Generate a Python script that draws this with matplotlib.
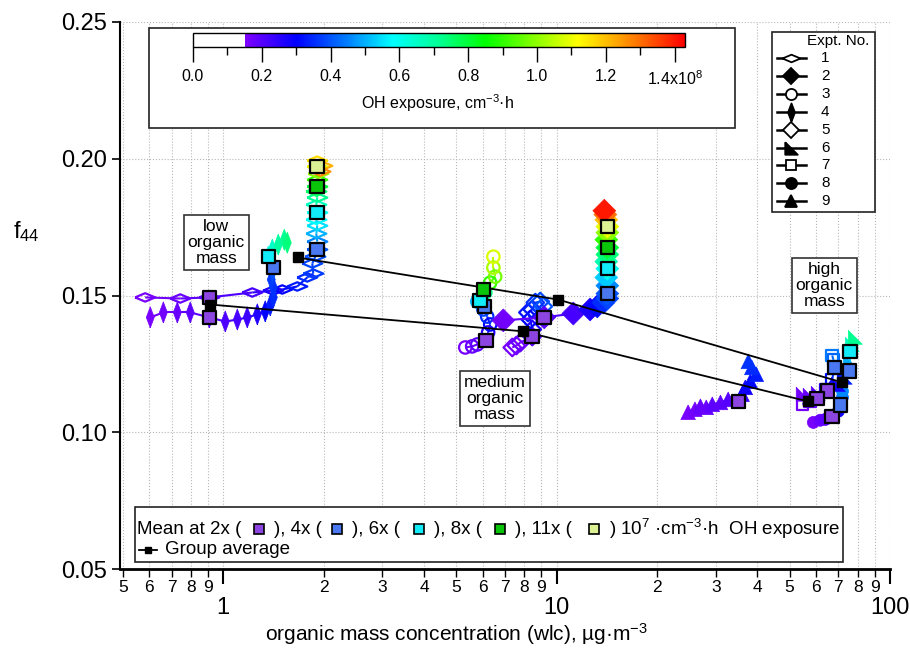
import numpy as np
import matplotlib as mpl
import matplotlib.pyplot as plt
from matplotlib.colors import LinearSegmentedColormap, Normalize
from matplotlib.collections import LineCollection
from matplotlib.patches import Rectangle
from matplotlib.ticker import FixedLocator, LogLocator, FuncFormatter

plt.rcParams['font.family'] = ['Liberation Sans', 'DejaVu Sans']
plt.rcParams['mathtext.fontset'] = 'custom'
plt.rcParams['mathtext.rm'] = 'Liberation Sans'
plt.rcParams['mathtext.it'] = 'Liberation Sans:italic'

# ---- data: organic mass (ug/m3), f44, OH exposure (1e8 cm-3 h) ----
# expt 1, low mass, upper track
e1_x = [0.583, 0.743, 0.908, 1.222, 1.412, 1.503, 1.667, 1.786, 1.862, 1.849, 1.888, 1.914, 1.914, 1.901,
        1.914, 1.901, 1.914, 1.901, 1.914, 1.901, 1.914, 1.914, 1.928, 1.914, 1.914, 1.981, 1.955]
e1_y = [0.1493, 0.1489, 0.1493, 0.1511, 0.1518, 0.1522, 0.1533, 0.1566, 0.1580, 0.1617, 0.1642, 0.1668, 0.1697, 0.1726,
        0.1755, 0.1777, 0.1803, 0.1832, 0.1858, 0.1880, 0.1898, 0.1923, 0.1945, 0.1971, 0.1993, 0.1974, 0.1953]
e1_oh = [0.16, 0.18, 0.20, 0.22, 0.27, 0.30, 0.33, 0.35, 0.37, 0.38, 0.39, 0.40, 0.45, 0.50,
         0.55, 0.58, 0.60, 0.66, 0.72, 0.76, 0.80, 0.90, 1.00, 1.10, 1.16, 1.22, 1.26]
# expt 2, medium mass
e2_x = [6.92, 9.18, 11.22, 12.6, 13.24, 13.8, 14.19, 14.19, 14.19, 14.09, 14.19, 14.09, 14.19, 14.19,
        14.09, 14.19, 14.19, 14.09, 14.0, 13.9]
e2_y = [0.1409, 0.1420, 0.1434, 0.1449, 0.1460, 0.1474, 0.1489, 0.1507, 0.1536, 0.1566, 0.1598, 0.1624, 0.1650, 0.1675,
        0.1704, 0.1730, 0.1752, 0.1777, 0.1796, 0.1810]
e2_oh = [0.17, 0.20, 0.22, 0.27, 0.31, 0.35, 0.38, 0.40, 0.46, 0.53, 0.60, 0.68, 0.74, 0.80,
         0.90, 1.00, 1.10, 1.20, 1.30, 1.40]
# expt 3, medium mass
e3_x = [5.32, 5.58, 5.78, 6.15, 6.23, 6.32, 6.19, 6.03, 6.07, 5.78, 5.90, 6.11, 6.03, 6.32, 6.54, 6.46, 6.46]
e3_y = [0.1310, 0.1314, 0.1321, 0.1336, 0.1365, 0.1394, 0.1423, 0.1449, 0.1460, 0.1478, 0.1482, 0.1511, 0.1522,
        0.1547, 0.1569, 0.1602, 0.1642]
e3_oh = [0.16, 0.18, 0.19, 0.20, 0.26, 0.31, 0.35, 0.38, 0.40, 0.50, 0.60, 0.72, 0.80, 0.90, 0.97, 1.03, 1.08]
# expt 4, low mass, lower track
e4_x = [0.604, 0.661, 0.728, 0.796, 0.908, 1.014, 1.102, 1.180, 1.265, 1.336, 1.383, 1.413, 1.413, 1.393,
        1.403, 1.413, 1.383, 1.365, 1.403, 1.462, 1.524, 1.556]
e4_y = [0.1420, 0.1438, 0.1438, 0.1438, 0.1420, 0.1405, 0.1412, 0.1420, 0.1431, 0.1442, 0.1464, 0.1493, 0.1529, 0.1558,
        0.1588, 0.1602, 0.1624, 0.1642, 0.1668, 0.1686, 0.1704, 0.1693]
e4_oh = [0.16, 0.17, 0.18, 0.19, 0.20, 0.21, 0.22, 0.23, 0.26, 0.30, 0.33, 0.35, 0.36, 0.37,
         0.39, 0.40, 0.50, 0.60, 0.65, 0.70, 0.72, 0.74]
# expt 5, medium mass
e5_x = [7.36, 7.57, 7.78, 8.45, 8.45, 8.34, 8.20, 8.45, 8.63, 8.93, 9.12]
e5_y = [0.1310, 0.1317, 0.1328, 0.1350, 0.1376, 0.1412, 0.1438, 0.1449, 0.1474, 0.1478, 0.1460]
e5_oh = [0.16, 0.17, 0.18, 0.20, 0.26, 0.30, 0.32, 0.33, 0.36, 0.38, 0.40]
# expt 6, high mass
e6_x = [54.9, 57.6, 60.9, 64.9, 70.0, 73.4, 75.5, 76.0, 76.0, 77.1, 78.7]
e6_y = [0.1139, 0.1135, 0.1142, 0.1150, 0.1175, 0.1201, 0.1223, 0.1259, 0.1296, 0.1321, 0.1347]
e6_oh = [0.17, 0.18, 0.19, 0.20, 0.28, 0.34, 0.40, 0.50, 0.60, 0.66, 0.72]
# expt 7, high mass
e7_x = [54.6, 57.6, 60.5, 64.0, 67.1, 68.1, 67.6, 67.1]
e7_y = [0.1102, 0.1113, 0.1124, 0.1157, 0.1193, 0.1237, 0.1266, 0.1281]
e7_oh = [0.16, 0.18, 0.20, 0.26, 0.32, 0.40, 0.42, 0.44]
# expt 8, high mass
e8_x = [58.9, 61.8, 64.0, 67.1, 70.0, 71.0, 72.0, 72.0]
e8_y = [0.1036, 0.1044, 0.1047, 0.1058, 0.1077, 0.1099, 0.1128, 0.1150]
e8_oh = [0.16, 0.18, 0.19, 0.20, 0.28, 0.40, 0.44, 0.46]
# expt 9, high mass
e9_x = [24.8, 26.0, 27.0, 28.1, 29.3, 31.0, 32.7, 35.1, 36.0, 36.8, 38.1, 39.7, 38.5, 37.6]
e9_y = [0.1073, 0.1084, 0.1095, 0.1091, 0.1102, 0.1109, 0.1120, 0.1113, 0.1139, 0.1164, 0.1186, 0.1212, 0.1237, 0.1259]
e9_oh = [0.16, 0.17, 0.18, 0.18, 0.19, 0.19, 0.20, 0.20, 0.24, 0.28, 0.31, 0.33, 0.35, 0.36]

# means at fixed OH exposure (level in 1e7 cm-3 h)
mean_x = [0.908, 1.413, 1.365, 0.908, 1.914, 1.914, 1.914, 1.914,
          6.15, 6.07, 5.90, 6.03, 8.45, 9.18, 14.19, 14.19, 14.19, 14.19,
          35.1, 64.9, 75.5, 76.0, 60.5, 68.1, 67.1, 71.0]
mean_y = [0.1420, 0.1602, 0.1642, 0.1493, 0.1668, 0.1803, 0.1898, 0.1971,
          0.1336, 0.1460, 0.1482, 0.1522, 0.1350, 0.1420, 0.1507, 0.1598, 0.1675, 0.1752,
          0.1113, 0.1150, 0.1223, 0.1296, 0.1124, 0.1237, 0.1058, 0.1099]
mean_lvl = [2, 4, 6, 2, 4, 6, 8, 11,
            2, 4, 6, 8, 2, 2, 4, 6, 8, 11,
            2, 2, 4, 6, 2, 4, 2, 4]
lvl_colors = {2: '#8c45e0', 4: '#4a78f0', 6: '#12ecf8', 8: '#0ac40a', 11: '#dcf094'}

# group averages
grp2_x = [0.914, 7.94, 56.7]
grp2_y = [0.1467, 0.1369, 0.1113]
grp4_x = [1.67, 10.11, 72.0]
grp4_y = [0.1639, 0.1485, 0.1182]

cb_ticks = [0.0, 0.2, 0.4, 0.6, 0.8, 1.0, 1.2, 1.4]
cb_labels = ['0.0', '0.2', '0.4', '0.6', '0.8', '1.0', '1.2', '1.4x10$^8$']

# ---- colour scale ----
oh_max = 1.43
stops = [(0.0, 'white'), (0.149, 'white'), (0.15, '#8000ff'), (0.30, '#0000ff'), (0.45, '#0080ff'),
         (0.58, '#00ffff'), (0.72, '#00ff90'), (0.85, '#00ff00'), (1.12, '#ffff00'), (1.28, '#ff8000'),
         (1.43, '#ff0000')]
cmap = LinearSegmentedColormap.from_list('ohexp', [(v / oh_max, c) for v, c in stops], N=512)
norm = Normalize(0, oh_max)

W, H = 910, 648
def fx(x):
    return x / W
def fy(y):
    return 1 - y / H

fig = plt.figure(figsize=(9.1, 6.48), dpi=100)
ax = fig.add_axes([fx(120), fy(569), (890 - 120) / W, (569 - 22) / H])
ax.set_xscale('log')

thin_h = [(-1, 0), (0, 0.42), (1, 0), (0, -0.42), (-1, 0)]
thin_v = [(0, -1), (0.38, 0), (0, 1), (-0.38, 0), (0, -1)]
rtri = [(-1, 1), (-1, -1), (1, -1), (-1, 1)]

expts = [
    (e1_x, e1_y, e1_oh, thin_h, False, 210),
    (e4_x, e4_y, e4_oh, thin_v, True, 230),
    (e3_x, e3_y, e3_oh, 'o', False, 80),
    (e5_x, e5_y, e5_oh, 'D', False, 80),
    (e2_x, e2_y, e2_oh, 'D', True, 135),
    (e9_x, e9_y, e9_oh, '^', True, 110),
    (e7_x, e7_y, e7_oh, 's', False, 70),
    (e8_x, e8_y, e8_oh, 'o', True, 75),
    (e6_x, e6_y, e6_oh, rtri, True, 100),
]
for x, y, oh, m, filled, s in expts:
    x = np.array(x); y = np.array(y); oh = np.array(oh)
    pts = np.column_stack([x, y])
    segs = np.stack([pts[:-1], pts[1:]], axis=1)
    lc = LineCollection(segs, colors=cmap(norm((oh[:-1] + oh[1:]) / 2)), linewidths=1.5, zorder=2)
    ax.add_collection(lc)
    cols = cmap(norm(oh))
    if filled:
        ax.scatter(x, y, marker=m, s=s, c=cols, edgecolors=cols, linewidths=0.5, zorder=2)
    else:
        ax.scatter(x, y, marker=m, s=s, facecolors='none', edgecolors=cols, linewidths=1.6, zorder=2)

ax.plot(grp2_x, grp2_y, color='black', lw=1.3, zorder=3)
ax.plot(grp4_x, grp4_y, color='black', lw=1.3, zorder=3)
ax.scatter(mean_x, mean_y, marker='s', s=95, c=[lvl_colors[l] for l in mean_lvl],
           edgecolors='black', linewidths=1.6, zorder=4)
ax.plot(grp2_x, grp2_y, 's', ms=7.5, color='black', ls='none', zorder=5)
ax.plot(grp4_x, grp4_y, 's', ms=7.5, color='black', ls='none', zorder=5)

# axes
ax.set_xlim(0.49, 100)
ax.set_ylim(0.05, 0.25)
ax.set_yticks([0.05, 0.10, 0.15, 0.20, 0.25])
ax.yaxis.set_major_formatter(FuncFormatter(lambda v, p: f'{v:.2f}'))
ax.xaxis.set_major_locator(FixedLocator([1, 10, 100]))
ax.xaxis.set_major_formatter(FuncFormatter(lambda v, p: f'{v:g}'))
ax.xaxis.set_minor_locator(LogLocator(base=10, subs=np.arange(2, 10)))
ax.xaxis.set_minor_formatter(FuncFormatter(
    lambda v, p: str(int(round(v / 10 ** np.floor(np.log10(v) + 1e-9))))))
ax.tick_params(axis='x', which='major', length=11, width=1.5, labelsize=17, pad=9, direction='out')
ax.tick_params(axis='x', which='minor', length=6, width=1, labelsize=12.5, pad=2, direction='out')
ax.tick_params(axis='y', which='major', length=6, width=1.2, labelsize=17, direction='out')
ax.grid(which='both', axis='x', ls=':', color='#b8b8b8', lw=0.8)
ax.grid(which='major', axis='y', ls=':', color='#b8b8b8', lw=0.8)
ax.set_axisbelow(True)
for side in ['top', 'right']:
    ax.spines[side].set_visible(False)
ax.spines['left'].set_linewidth(1.5)
ax.spines['bottom'].set_linewidth(2)

fig.text(fx(13), fy(232), 'f$_{44}$', fontsize=17, va='center', ha='left')
fig.text(fx(456), 1 / H, 'organic mass concentration (wlc), µg·m$^{-3}$', fontsize=15,
         ha='center', va='bottom')

# labelled boxes
box = dict(boxstyle='square,pad=0.22', fc='white', ec='#333333', lw=1.2)
ax.text(0.953, 0.1693, 'low\norganic\nmass', fontsize=12.5, ha='center', va='center',
        linespacing=1.1, bbox=box, zorder=6)
ax.text(6.54, 0.1124, 'medium\norganic\nmass', fontsize=12.5, ha='center', va='center',
        linespacing=1.1, bbox=box, zorder=6)
ax.text(63.5, 0.1536, 'high\norganic\nmass', fontsize=12.5, ha='center', va='center',
        linespacing=1.1, bbox=box, zorder=6)

# colour bar inset
ax.add_patch(Rectangle((fx(149), fy(128)), (735 - 149) / W, 100 / H, transform=fig.transFigure,
                       fc='white', ec='#222222', lw=1.2, clip_on=False, zorder=10))
cax = fig.add_axes([fx(193), fy(47), 492 / W, 14 / H])
cb = mpl.colorbar.ColorbarBase(cax, cmap=cmap, norm=norm, orientation='horizontal')
cb.set_ticks(cb_ticks)
cb.set_ticklabels(cb_labels)
cax.xaxis.set_minor_locator(FixedLocator([0.1, 0.3, 0.5, 0.7, 0.9, 1.1, 1.3]))
cax.tick_params(which='major', length=11, width=1, labelsize=11.5, pad=5)
cax.tick_params(which='minor', length=6, width=1)
cb.outline.set_linewidth(1)
fig.text(fx(438), fy(103), 'OH exposure, cm$^{-3}$·h', fontsize=11.5, ha='center', va='center')

# experiment legend
ax.add_patch(Rectangle((fx(772), fy(212)), (875 - 772) / W, 180 / H, transform=fig.transFigure,
                       fc='white', ec='#222222', lw=1.2, clip_on=False, zorder=10))
fig.text(fx(807), fy(41), 'Expt. No.', fontsize=11, ha='left', va='center', zorder=12)
leg_marks = [(thin_h, False, 13), ('D', True, 8.5), ('o', False, 8), (thin_v, True, 13), ('D', False, 8.5),
             (rtri, True, 9), ('s', False, 7.5), ('o', True, 8), ('^', True, 8.5)]
for i, (m, filled, ms) in enumerate(leg_marks):
    yy = fy(58 + i * 17.9)
    ax.plot([fx(777), fx(806)], [yy, yy], color='black', lw=1.8, transform=fig.transFigure,
            clip_on=False, zorder=11)
    ax.plot([fx(791)], [yy], marker=m, ms=ms, mfc='black' if filled else 'white', mec='black',
            mew=1.3, transform=fig.transFigure, clip_on=False, zorder=12)
    fig.text(fx(821), yy, str(i + 1), fontsize=11, ha='left', va='center', zorder=12)

# mean / group legend
ax.add_patch(Rectangle((fx(135), fy(562)), (843 - 135) / W, 55 / H, transform=fig.transFigure,
                       fc='white', ec='#222222', lw=1.2, clip_on=False, zorder=10))
pieces = [(137, 'Mean at 2x ('), (274, '), 4x ('), (352, '), 6x ('), (434, '), 8x ('),
          (515, '), 11x ('), (609, ') 10$^7$ ·cm$^{-3}$·h  OH exposure')]
for px, t in pieces:
    fig.text(fx(px), fy(529), t, fontsize=13.5, ha='left', va='center', zorder=12)
for px, lvl in zip([259, 337, 419, 500, 594], [2, 4, 6, 8, 11]):
    ax.plot([fx(px)], [fy(529)], marker='s', ms=7, mfc=lvl_colors[lvl], mec='black', mew=1.2,
            transform=fig.transFigure, clip_on=False, zorder=12)
ax.plot([fx(139), fx(157)], [fy(550), fy(550)], color='black', lw=1.3, transform=fig.transFigure,
        clip_on=False, zorder=11)
ax.plot([fx(148)], [fy(550)], 's', ms=5, color='black', transform=fig.transFigure,
        clip_on=False, zorder=12)
fig.text(fx(165), fy(550), 'Group average', fontsize=13.5, ha='left', va='center', zorder=12)

fig.savefig('out.png', dpi=100)
